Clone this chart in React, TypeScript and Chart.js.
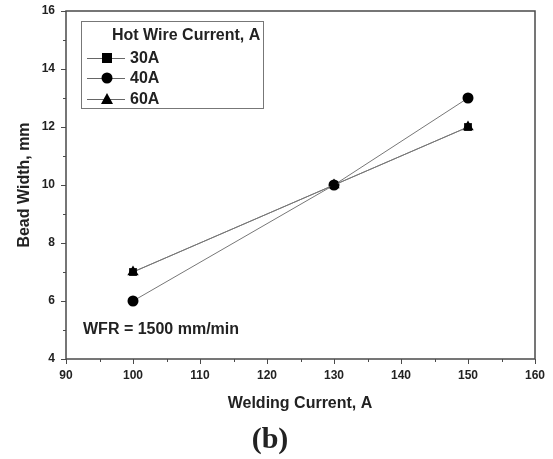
import React, { useEffect, useRef } from "react";
import { Chart, registerables } from "chart.js";

Chart.register(...registerables);

const weldingCurrent = [100, 130, 150];
const width30A = [7, 10, 12];
const width40A = [6, 10, 13];
const width60A = [7, 10, 12];
const seriesLabels = ["30A", "40A", "60A"];
const legendTitle = "Hot Wire Current, A";
const xTitle = "Welding Current, A";
const yTitle = "Bead Width, mm";
const noteText = "WFR = 1500 mm/min";
const captionText = "(b)";

const FONT = "'Liberation Sans', Arial, sans-serif";
const AXIS = "#4a4a4a";

const toPoints = (ys: number[]) => weldingCurrent.map((x, i) => ({ x, y: ys[i] }));

const decorPlugin = {
  id: "decor",
  afterDraw(chart: any) {
    const { ctx, chartArea: a, scales } = chart;
    const xs = scales.x;
    const ys = scales.y;
    ctx.save();
    // frame
    ctx.strokeStyle = AXIS;
    ctx.lineWidth = 1.5;
    ctx.strokeRect(a.left, a.top, a.right - a.left, a.bottom - a.top);
    // ticks
    ctx.lineWidth = 1;
    ctx.beginPath();
    for (let v = 90; v <= 160; v += 5) {
      const px = Math.round(xs.getPixelForValue(v)) + 0.5;
      const len = v % 10 === 0 ? 5 : 3;
      ctx.moveTo(px, a.bottom);
      ctx.lineTo(px, a.bottom + len);
    }
    for (let v = 4; v <= 16; v += 1) {
      const py = Math.round(ys.getPixelForValue(v)) + 0.5;
      const len = v % 2 === 0 ? 5 : 3;
      ctx.moveTo(a.left, py);
      ctx.lineTo(a.left - len, py);
    }
    ctx.stroke();
    // tick labels
    ctx.fillStyle = "#222";
    ctx.font = `bold 12px ${FONT}`;
    ctx.textAlign = "center";
    ctx.textBaseline = "middle";
    for (let v = 90; v <= 160; v += 10) {
      ctx.fillText(String(v), xs.getPixelForValue(v), a.bottom + 17);
    }
    ctx.textAlign = "right";
    for (let v = 4; v <= 16; v += 2) {
      ctx.fillText(String(v), a.left - 11, ys.getPixelForValue(v));
    }
    // axis titles
    ctx.font = `bold 16px ${FONT}`;
    ctx.textAlign = "center";
    ctx.fillText(xTitle, 300, 404);
    ctx.save();
    ctx.translate(25, (a.top + a.bottom) / 2);
    ctx.rotate(-Math.PI / 2);
    ctx.fillText(yTitle, 0, 0);
    ctx.restore();
    // caption
    ctx.font = `bold 30px 'Liberation Serif', 'Times New Roman', serif`;
    ctx.fillText(captionText, 270, 440);
    // note
    ctx.font = `bold 16px ${FONT}`;
    ctx.textAlign = "left";
    ctx.fillText(noteText, 83, 330);
    // legend
    ctx.strokeStyle = "#777";
    ctx.lineWidth = 1;
    ctx.strokeRect(81.5, 21.5, 182, 87);
    ctx.fillStyle = "#222";
    ctx.font = `bold 16px ${FONT}`;
    ctx.fillText(legendTitle, 112, 36);
    const rows = [58, 78, 99];
    const styles = ["rect", "circle", "triangle"];
    rows.forEach((ry, i) => {
      ctx.strokeStyle = "#666";
      ctx.lineWidth = 1;
      ctx.beginPath();
      ctx.moveTo(87, ry + 0.5);
      ctx.lineTo(125, ry + 0.5);
      ctx.stroke();
      ctx.fillStyle = "#000";
      ctx.beginPath();
      if (styles[i] === "rect") ctx.rect(102, ry - 5, 10, 10);
      else if (styles[i] === "circle") ctx.arc(107, ry, 5.5, 0, Math.PI * 2);
      else {
        ctx.moveTo(107, ry - 6);
        ctx.lineTo(113, ry + 5);
        ctx.lineTo(101, ry + 5);
        ctx.closePath();
      }
      ctx.fill();
      ctx.fillStyle = "#222";
      ctx.fillText(seriesLabels[i], 130, ry + 1);
    });
    ctx.restore();
  },
};

export default function App() {
  const ref = useRef<HTMLCanvasElement>(null);
  useEffect(() => {
    if (!ref.current) return;
    const mk = (label: string, ys: number[], style: any, radius: number) => ({
      label,
      data: toPoints(ys),
      showLine: true,
      borderColor: "#777",
      borderWidth: 1,
      pointStyle: style,
      pointRadius: radius,
      pointBackgroundColor: "#000",
      pointBorderColor: "#000",
      pointBorderWidth: 0,
    });
    const chart = new Chart(ref.current, {
      type: "scatter",
      data: {
        datasets: [
          mk(seriesLabels[0], width30A, "rect", 5.5),
          mk(seriesLabels[1], width40A, "circle", 5.5),
          mk(seriesLabels[2], width60A, "triangle", 6.5),
        ],
      },
      options: {
        animation: false,
        responsive: false,
        devicePixelRatio: 1,
        layout: { padding: { top: 11, right: 18, left: 0, bottom: 0 } },
        plugins: { legend: { display: false }, tooltip: { enabled: false }, title: { display: false } },
        scales: {
          x: {
            type: "linear",
            min: 90,
            max: 160,
            grid: { display: false },
            border: { display: false },
            ticks: { display: false },
            afterFit: (s: any) => {
              s.height = 100;
            },
          },
          y: {
            type: "linear",
            min: 4,
            max: 16,
            grid: { display: false },
            border: { display: false },
            ticks: { display: false },
            afterFit: (s: any) => {
              s.width = 66;
            },
          },
        },
      },
      plugins: [decorPlugin],
    } as any);
    return () => chart.destroy();
  }, []);
  return (
    <div style={{ position: "fixed", left: 0, top: 0, width: 553, height: 459, background: "#fff" }}>
      <canvas ref={ref} width={553} height={459} style={{ width: 553, height: 459 }} />
    </div>
  );
}
